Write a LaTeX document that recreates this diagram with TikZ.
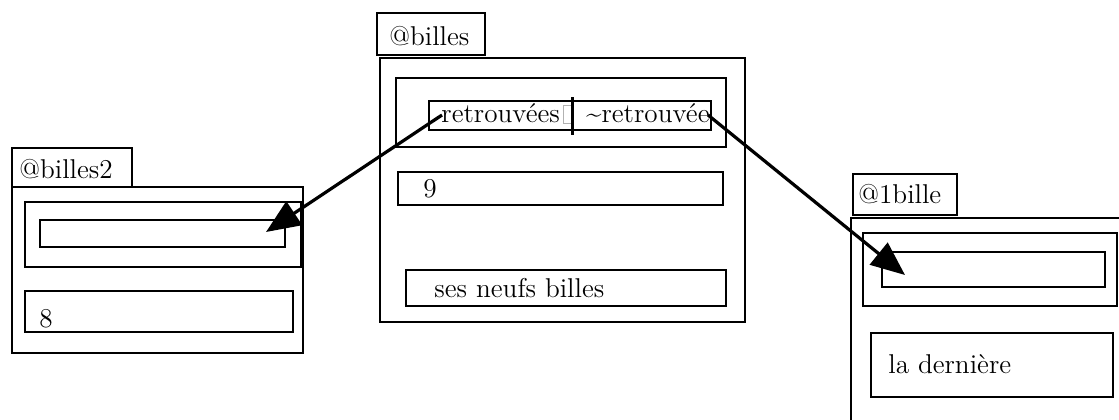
\documentclass[tikz,border=0pt]{standalone}
\usetikzlibrary{arrows.meta}

\tikzset{
	boite/.style={draw,rectangle,line width=1.25pt,inner sep=0pt},
	etiq/.style={anchor=base west,inner sep=0pt,font=\fontsize{13.6}{16}\selectfont},
	lien/.style={line width=1.6pt,-{Triangle[length=17pt,width=14pt]}}
}

\newcommand{\casebox}[4]
{
	\node[boite,minimum width=#3*0.5pt,minimum height=#4*0.5pt] at (#2) (#1) {}
}

\begin{document}
\begin{tikzpicture}[x=0.5pt,y=-0.5pt]
	\useasboundingbox (0,0) rectangle (1119,419);
	\clip (0,0) rectangle (1119,419);
	
	%%% @billes
	\casebox{lblB}{431,34}{108}{42};
	\node[etiq] (tlblB) at (389,45) {@billes};
	\casebox{outB}{562.5,190}{365}{264};
	\casebox{inB}{561,112.5}{330}{69};
	\casebox{refB}{570,115.5}{282}{29};
	\node[etiq] (tretA) at (441,122) {retrouvées};
	\draw[gray!60,line width=0.4pt] (563,105) rectangle (571,123);
	\draw[line width=1.5pt] (572,97) -- (572,135);
	\node[etiq] (tretB) at (586,122) {\textasciitilde retrouvée};
	\casebox{nineB}{560.5,188.5}{325}{33};
	\node[etiq] (tnine) at (423,197) {9};
	\casebox{sesB}{566,288}{320}{36};
	\node[etiq] (tses) at (434,297) {ses neufs billes};
	
	%%% @billes2
	\casebox{lblL}{72,167.5}{120}{39};
	\node[etiq] (tlblL) at (19,178) {@billes2};
	\casebox{outL}{157.5,270}{291}{166};
	\casebox{inL}{163,234.5}{276}{65};
	\casebox{refL}{162.5,233.5}{245}{27};
	\casebox{eightL}{159,311.5}{268}{41};
	\node[etiq] (teight) at (39,327) {8};
	
	%%% @1bille
	\casebox{lblR}{905,194.5}{104}{41};
	\node[etiq] (tlblR) at (858,203) {@1bille};
	\casebox{outR}{990.5,324}{279}{212};
	\casebox{inR}{990,269.5}{254}{73};
	\casebox{refR}{993.5,269.5}{223}{35};
	\casebox{lastR}{992,365}{242}{64};
	\node[etiq] (tlast) at (888,373) {la dernière};
	
	%%%%%%%%% REFERENCES
	\coordinate (srcL) at (442,115);
	\coordinate (dstL) at (266,232);
	\coordinate (srcR) at (708,115);
	\coordinate (dstR) at (905,275);
	\draw[lien] (srcL) -- (dstL);
	\draw[lien] (srcR) -- (dstR);
\end{tikzpicture}
\end{document}
